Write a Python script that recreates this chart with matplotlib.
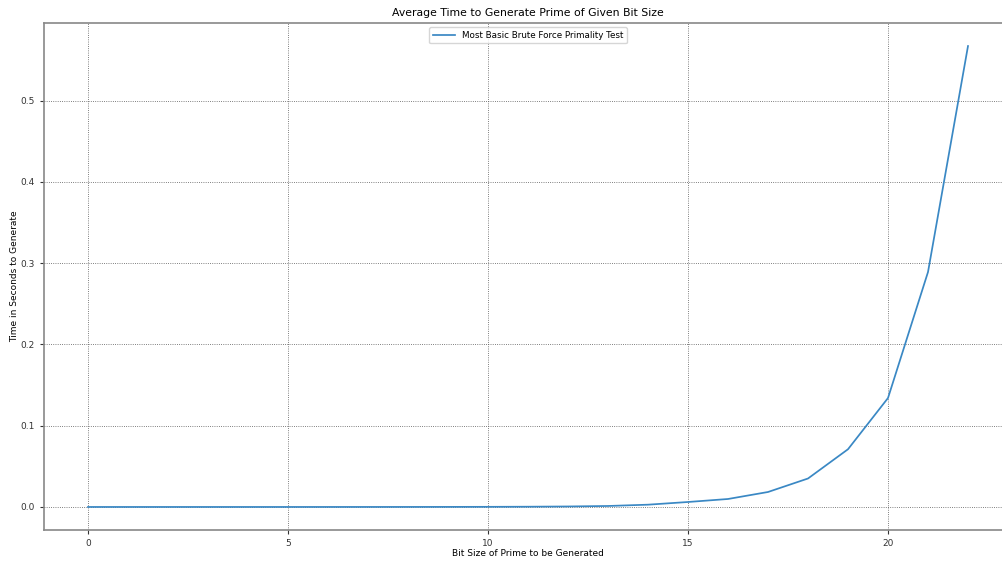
import matplotlib
matplotlib.use("Agg")
import matplotlib.pyplot as plt

# average generation time (seconds) per prime bit size
bit_sizes = list(range(23))
avg_times = [0.0, 0.0, 0.0, 0.0, 0.0, 0.0, 0.00001, 0.00002, 0.00004, 0.00008,
             0.00015, 0.0003, 0.0006, 0.0012, 0.0028, 0.0061, 0.0098, 0.0184,
             0.035, 0.071, 0.134, 0.289, 0.567]

fig = plt.figure(figsize=(10.02, 5.61), dpi=100)
# axes runs past the right edge of the canvas
ax = fig.add_axes([44 / 1002, 31 / 561, 968 / 1002, 507 / 561])

ax.plot(bit_sizes, avg_times, color='#3a88c4', linewidth=1.25,
        label='Most Basic Brute Force Primality Test')

ax.set_title('Average Time to Generate Prime of Given Bit Size', fontsize=7.8, pad=5)
ax.set_xlabel('Bit Size of Prime to be Generated', fontsize=6.5, labelpad=1)
ax.set_ylabel('Time in Seconds to Generate', fontsize=6.5, labelpad=1)
ax.tick_params(labelsize=6.5, colors='#333333', length=3, width=0.8)
ax.grid(True, color='#555555', linestyle=':', linewidth=0.6)
for s in ax.spines.values():
    s.set_color('#888888')
    s.set_linewidth(1.2)

ax.legend(loc='upper center', fontsize=6.3, handlelength=2.5)

fig.savefig('out.png', dpi=100)
